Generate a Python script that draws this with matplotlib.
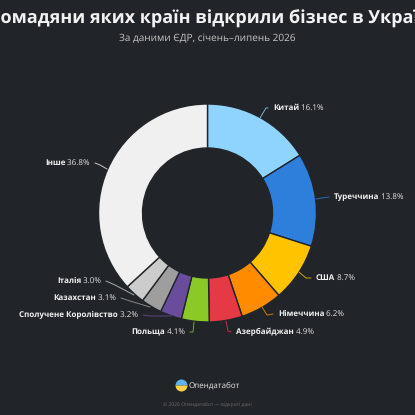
"""
Donut chart: citizens of which countries opened businesses in Ukraine.
"""

import matplotlib.pyplot as plt
from matplotlib.patches import Wedge

categories = ['Китай', 'Туреччина', 'США', 'Німеччина', 'Азербайджан',
              'Польща', 'Сполучене Королівство', 'Казахстан', 'Італія',
              'Інше']
shares = [16.1, 13.8, 8.7, 6.2, 4.9, 4.1, 3.2, 3.1, 3.0, 36.8]
colors = ['#8fd3ff', '#2e7fdb', '#ffc300', '#ff8c00', '#e63946',
          '#8ac926', '#6a4c9c', '#9e9e9e', '#cccccc', '#f0f0f0']

# label layout in pixels from the top left: line start, elbow, text x, text y
label_layout = [
    ((260, 118), (266, 108), 273, 108, 'left'),
    ((316, 199), (322, 198), 334, 197, 'left'),
    ((299, 272), (306, 278), 316, 278, 'left'),
    ((262, 307), (267, 315), 278, 314, 'left'),
    ((226, 321), (228, 331), 236, 332, 'left'),
    ((194, 322), (193, 332), 185, 332, 'right'),
    ((171, 316), (150, 316), 138, 315, 'right'),
    ((150, 307), (130, 301), 116, 298, 'right'),
    ((134, 295), (115, 285), 101, 281, 'right'),
    ((107, 169), (100, 165), 90, 163, 'right'),
]

BG = '#212529'
H = 415
LABEL_SIZE = 5.9

plt.rcParams['font.family'] = ['Open Sans', 'DejaVu Sans']
plt.rcParams['text.hinting'] = 'no_hinting'
plt.rcParams['text.hinting_factor'] = 1

fig = plt.figure(figsize=(4.15, 4.15), dpi=100, facecolor=BG)
ax = fig.add_axes([0, 0, 1, 1])
ax.set_facecolor(BG)

ax.pie(shares, colors=colors, startangle=90, counterclock=False,
       center=(207.5, H - 213), radius=109, frame=True,
       wedgeprops=dict(width=44, edgecolor=BG, linewidth=1))
ax.set_xlim(0, 415)
ax.set_ylim(0, 415)
ax.set_aspect('equal')
ax.axis('off')

renderer = fig.canvas.get_renderer()


def put_label(name, share, color, layout):
    """Draws the leader line and the bold name + regular percent label."""
    start, elbow, tx, ty, side = layout
    end_x = tx - 5 if side == 'left' else tx + 5
    ax.plot([start[0], elbow[0], end_x],
            [H - start[1], H - elbow[1], H - ty],
            color=color, lw=0.7, alpha=0.8, solid_capstyle='round')
    pct = f' {share}%'
    if side == 'left':
        t = ax.text(tx, H - ty, name, color='#f2f2f2', fontsize=LABEL_SIZE,
                    fontweight='bold', ha='left', va='center')
        box = t.get_window_extent(renderer)
        ax.text(box.x1, H - ty, pct, color='#e4e4e4', fontsize=LABEL_SIZE,
                ha='left', va='center')
    else:
        t = ax.text(tx, H - ty, pct, color='#e4e4e4', fontsize=LABEL_SIZE,
                    ha='right', va='center')
        box = t.get_window_extent(renderer)
        ax.text(box.x0, H - ty, name, color='#f2f2f2', fontsize=LABEL_SIZE,
                fontweight='bold', ha='right', va='center')


for name, share, color, layout in zip(categories, shares, colors,
                                      label_layout):
    put_label(name, share, color, layout)

# title runs past both edges like in the original
ax.text(207.5, H - 19, 'Громадяни яких країн відкрили бізнес в Україні',
        color='#f2f2f2', fontsize=12.9, fontweight='bold', ha='center',
        va='center', clip_on=False)
ax.text(207.5, H - 39, 'За даними ЄДР, січень–липень 2026',
        color='#c4c4c4', fontsize=7.5, ha='center', va='center')

# logo and footer
ax.add_patch(Wedge((181.5, H - 385.5), 6, 0, 180, color='#5fb4ea', lw=0))
ax.add_patch(Wedge((181.5, H - 385.5), 6, 180, 360, color='#f9d342', lw=0))
ax.text(189, H - 385.5, 'Опендатабот', color='#e6e6e6', fontsize=5.7,
        ha='left', va='center')
ax.text(207.5, H - 405, '© 2026 Опендатабот — відкриті дані',
        color='#6c6c6c', fontsize=3.6, ha='center', va='center')

plt.savefig('out.png', dpi=100, facecolor=BG)
plt.close()
